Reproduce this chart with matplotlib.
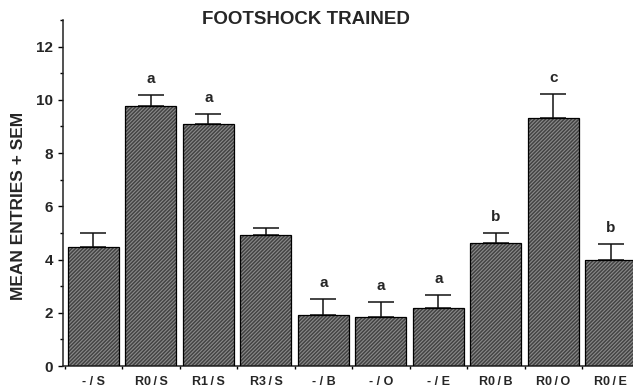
"""Footshock trained: mean entries + SEM per group (hatched bar chart)."""
import matplotlib

matplotlib.use("Agg")
import matplotlib.pyplot as plt
from matplotlib.ticker import FixedLocator, MultipleLocator

# データ
groups = ["- / S", "R0/S", "R1/S", "R3/S", "- / B", "- / O", "- / E", "R0/B", "R0/O", "R0/E"]
means = [4.48, 9.77, 9.08, 4.92, 1.91, 1.83, 2.18, 4.61, 9.31, 3.98]
sems = [0.51, 0.41, 0.40, 0.27, 0.60, 0.57, 0.50, 0.40, 0.91, 0.62]
letters = ["", "a", "a", "", "a", "a", "a", "b", "c", "b"]

TEXT = "#262626"
FONTS = ["Liberation Sans", "DejaVu Sans"]
plt.rcParams["font.family"] = FONTS
plt.rcParams["font.weight"] = "bold"
plt.rcParams["hatch.color"] = "#8a8a8a"
plt.rcParams["hatch.linewidth"] = 0.8

fig = plt.figure(figsize=(6.33, 3.91), dpi=100)
ax = fig.add_axes([0.0995, 0.0639, 0.9156, 0.885])

x = list(range(len(groups)))
width = 0.887

# ハッチ付きの塗り（枠なし）と黒枠を別々に描く
ax.bar(x, means, width=width, color="#434343", hatch="/" * 9, zorder=2)
ax.bar(x, means, width=width, fill=False, edgecolor="black", linewidth=0.9, zorder=3)

# 上側のみの誤差棒
ax.errorbar(
    x, means, yerr=[[0] * len(sems), sems],
    fmt="none", ecolor="#111111", elinewidth=1.1, capsize=9.5, capthick=1.1, zorder=1,
)

# 有意差の文字
for xi, m, s, lab in zip(x, means, sems, letters):
    if lab:
        ax.annotate(
            lab, (xi, m + s), xytext=(0, 8.5), textcoords="offset points",
            ha="center", va="baseline", fontsize=11, fontweight="bold", color=TEXT,
        )

ax.set_xlim(-0.53, 9.55)
ax.set_ylim(0, 13)

for side in ("top", "right"):
    ax.spines[side].set_visible(False)
for side in ("left", "bottom"):
    ax.spines[side].set_linewidth(1.1)
    ax.spines[side].set_color("#222222")

# Y 軸目盛
ax.yaxis.set_major_locator(MultipleLocator(2))
ax.yaxis.set_minor_locator(FixedLocator([1, 3, 5, 7, 9, 11, 13]))
ax.tick_params(axis="y", which="major", length=3.6, width=1.0, pad=3.6,
               labelsize=11, labelcolor=TEXT)
ax.tick_params(axis="y", which="minor", length=2.2, width=1.0)

# X 軸: ラベルは棒の中央、目盛は棒の間
ax.set_xticks(x)
ax.set_xticklabels([g.replace("/", "\u2009/\u2009") if g[0] == "R" else g for g in groups])
ax.xaxis.set_minor_locator(FixedLocator([i - 0.5 for i in range(len(groups) + 1)]))
ax.tick_params(axis="x", which="major", length=0, pad=7, labelsize=9, labelcolor=TEXT)
ax.tick_params(axis="x", which="minor", length=2.5, width=1.0)
for lbl in ax.get_xticklabels() + ax.get_yticklabels():
    lbl.set_fontweight("bold")

fig.text(306 / 633, 1 - 19 / 391, "FOOTSHOCK TRAINED", ha="center", va="center",
         fontsize=13.5, fontweight="bold", color=TEXT)
fig.text(19 / 633, 1 - 205.5 / 391, "MEAN ENTRIES + SEM", ha="center", va="center",
         rotation=90, fontsize=12.5, fontweight="bold", color=TEXT)

fig.savefig("out.png", dpi=100)
plt.close(fig)
